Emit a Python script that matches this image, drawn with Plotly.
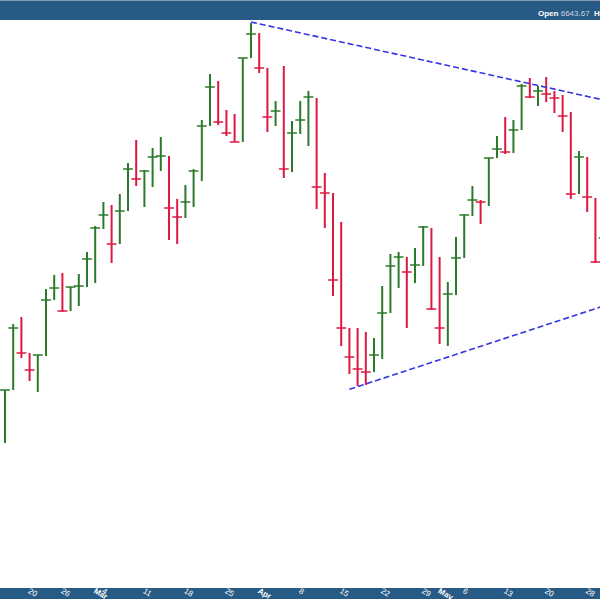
import plotly.graph_objects as go

dates = [
    "2024-02-14", "2024-02-15", "2024-02-16", "2024-02-20", "2024-02-21", "2024-02-22", "2024-02-23",
    "2024-02-26", "2024-02-27", "2024-02-28", "2024-02-29", "2024-03-01", "2024-03-04", "2024-03-05",
    "2024-03-06", "2024-03-07", "2024-03-08", "2024-03-11", "2024-03-12", "2024-03-13", "2024-03-14",
    "2024-03-15", "2024-03-18", "2024-03-19", "2024-03-20", "2024-03-21", "2024-03-22", "2024-03-25",
    "2024-03-26", "2024-03-27", "2024-03-28", "2024-04-01", "2024-04-02", "2024-04-03", "2024-04-04",
    "2024-04-05", "2024-04-08", "2024-04-09", "2024-04-10", "2024-04-11", "2024-04-12", "2024-04-15",
    "2024-04-16", "2024-04-17", "2024-04-18", "2024-04-19", "2024-04-22", "2024-04-23", "2024-04-24",
    "2024-04-25", "2024-04-26", "2024-04-29", "2024-04-30", "2024-05-01", "2024-05-02", "2024-05-03",
    "2024-05-06", "2024-05-07", "2024-05-08", "2024-05-09", "2024-05-10", "2024-05-13", "2024-05-14",
    "2024-05-15", "2024-05-16", "2024-05-17", "2024-05-20", "2024-05-21", "2024-05-22", "2024-05-23",
    "2024-05-24", "2024-05-28", "2024-05-29", "2024-05-30",
]

high = [
    6375, 6474, 6484.5, 6430.5, 6427.5, 6526.5, 6547.5, 6550.5, 6529.5, 6549, 6582, 6621, 6657, 6652.5,
    6669, 6715.5, 6750, 6705, 6738, 6754.5, 6726, 6661.5, 6682.5, 6706.5, 6780, 6849, 6838.5, 6795,
    6789, 6873, 6925.5, 6910.5, 6858, 6808.5, 6861, 6778.5, 6808.5, 6823.5, 6813, 6700.5, 6670.5, 6627,
    6468, 6468, 6462, 6453, 6531, 6579, 6582, 6574.5, 6588, 6621, 6618, 6574.5, 6537, 6604.5,
    6637.5, 6681, 6660, 6723, 6756, 6784.5, 6780, 6834, 6843, 6831, 6844.5, 6823.5, 6817.5, 6792,
    6733.5, 6724.5, 6663, 6622.5,
]
low = [
    6295.5, 6375, 6423, 6388.5, 6372, 6426, 6510, 6492, 6493.5, 6501, 6529.5, 6535.5, 6616.5, 6565.5,
    6594, 6643.5, 6681, 6649.5, 6679.5, 6703.5, 6600, 6594, 6633, 6649.5, 6688.5, 6771, 6772.5, 6756,
    6747, 6747, 6873, 6850.5, 6762, 6771, 6693, 6702, 6759, 6741, 6646.5, 6618, 6516, 6441,
    6399, 6381, 6382.5, 6402, 6421.5, 6490.5, 6528, 6468, 6535.5, 6561, 6495, 6444, 6441, 6517.5,
    6573, 6636, 6624, 6651, 6723, 6729, 6730.5, 6765, 6813, 6801, 6807, 6790.5, 6762, 6661.5,
    6669, 6642, 6565.5, 6558,
]
close = [
    6375, 6468, 6430.5, 6405, 6427.5, 6510, 6528, 6493.5, 6529.5, 6531, 6571.5, 6618, 6637.5, 6594,
    6643.5, 6706.5, 6691.5, 6703.5, 6724.5, 6726, 6648, 6634.5, 6657, 6703.5, 6771, 6829.5, 6777, 6760.5,
    6747, 6873, 6909, 6858, 6784.5, 6793.5, 6706.5, 6760.5, 6780, 6814.5, 6679.5, 6670.5, 6540, 6468,
    6424.5, 6406.5, 6402, 6427.5, 6490.5, 6561, 6574.5, 6552, 6562.5, 6619.5, 6496.5, 6468, 6519, 6573,
    6637.5, 6660, 6657, 6723, 6736.5, 6732, 6765, 6831, 6814.5, 6823.5, 6819, 6813, 6786, 6669,
    6724.5, 6664.5, 6567, 6603,
]

tick_dates = ["2024-02-20", "2024-02-26", "2024-03-01", "2024-03-04", "2024-03-11", "2024-03-18",
              "2024-03-25", "2024-04-01", "2024-04-08", "2024-04-15", "2024-04-22", "2024-04-29",
              "2024-05-01", "2024-05-06", "2024-05-13", "2024-05-20", "2024-05-28"]
tick_text = ["20", "26", "<b>Mar</b>", "4", "11", "18", "25", "<b>Apr</b>", "8", "15", "22", "29",
             "<b>May</b>", "6", "13", "20", "28"]

# trend lines: (date, value) anchors
upper_line = [("2024-03-28", 6927), ("2024-05-30", 6810)]
lower_line = [("2024-04-16", 6376), ("2024-05-30", 6501)]

header_open = "6643.67"

UP = "#2b7a2b"
DOWN = "#dc1840"
BAND = "#285a86"

up_dir = [True] + [close[i] >= close[i - 1] for i in range(1, len(close))]

fig = go.Figure()
for is_up, col in [(True, UP), (False, DOWN)]:
    vx, vy, cx, cy = [], [], [], []
    for d, h, l, c, u in zip(dates, high, low, close, up_dir):
        if u != is_up:
            continue
        vx += [d, d, None]
        vy += [l, h, None]
        cx.append(d)
        cy.append(c)
    fig.add_trace(go.Scatter(x=vx, y=vy, mode="lines", line=dict(color=col, width=2),
                             hoverinfo="skip", showlegend=False))
    fig.add_trace(go.Scatter(x=cx, y=cy, mode="markers",
                             marker=dict(symbol="line-ew", size=7,
                                         line=dict(color=col, width=1.5)),
                             showlegend=False))

for pts in (upper_line, lower_line):
    fig.add_shape(type="line", xref="x", yref="y",
                  x0=pts[0][0], y0=pts[0][1], x1=pts[1][0], y1=pts[1][1],
                  line=dict(color="#3535e6", width=1.6, dash="6px,3px"))

PLOT_H = 568.0
# header band
fig.add_shape(type="rect", xref="paper", yref="paper", x0=0, x1=1,
              y0=1, y1=1 + 20 / PLOT_H, fillcolor=BAND, line=dict(width=0), layer="below")
fig.add_shape(type="rect", xref="paper", yref="paper", x0=0, x1=1,
              y0=1 + 19 / PLOT_H, y1=1 + 20 / PLOT_H, fillcolor="#8a9bb0", line=dict(width=0),
              layer="below")
# footer band
fig.add_shape(type="rect", xref="paper", yref="paper", x0=0, x1=1,
              y0=-11 / PLOT_H, y1=0, fillcolor=BAND, line=dict(width=0), layer="below")

fig.add_annotation(xref="paper", yref="paper", x=536 / 600, y=1 + 6 / PLOT_H,
                   xanchor="left", yanchor="middle", showarrow=False,
                   text=f"<b>Open</b> <span style='color:#cfd8e3'>{header_open}</span>  <b>High</b>",
                   font=dict(family="Liberation Sans, Arial", size=8, color="white"))

fig.update_layout(
    width=600, height=600,
    margin=dict(l=0, r=0, t=20, b=12, autoexpand=False),
    paper_bgcolor="white", plot_bgcolor="white",
    xaxis=dict(type="category", categoryorder="array", categoryarray=dates,
               range=[-0.61, 72.56], showgrid=False, zeroline=False, showline=False,
               tickmode="array", tickvals=tick_dates, ticktext=tick_text, ticks="",
               tickfont=dict(family="Liberation Sans, Arial", size=8, color="white"),
               ticklabelstandoff=-4, automargin=False, fixedrange=True),
    yaxis=dict(range=[6078, 6930], showgrid=False, zeroline=False, showticklabels=False,
               showline=False, ticks="", automargin=False),
    hovermode=False,
)

fig.write_html("out.html", config={"displayModeBar": False},
               post_script="document.body.style.margin='0';")
